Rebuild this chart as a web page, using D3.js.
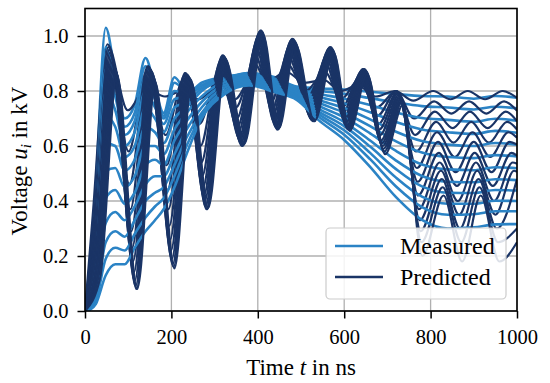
<!DOCTYPE html>
<html><head><meta charset="utf-8">
<script src="https://cdn.jsdelivr.net/npm/d3@7"></script>
<style>body{margin:0;background:#fff} svg{display:block}</style>
</head><body>
<svg id="chart" width="550" height="383"></svg>
<script>
const xTicks = [0, 200, 400, 600, 800, 1000];
const yTicks = [0, 0.2, 0.4, 0.6, 0.8, 1.0];
const seriesNames = ["Measured", "Predicted"];

const measTimes = [0, 12, 25, 48, 70, 92, 115, 140, 162, 182, 207, 235, 270, 320, 380, 440, 490, 540, 600, 660, 720, 780, 840, 900, 950, 1000];
const measured = [
  [0, 0.12, 0.45, 1.03, 0.86, 0.70, 0.75, 0.92, 0.81, 0.72, 0.85, 0.80, 0.81, 0.84, 0.865, 0.85, 0.816, 0.810, 0.805, 0.797, 0.789, 0.782, 0.780, 0.772, 0.782, 0.776],
  [0, 0.10, 0.39, 0.96, 0.83, 0.67, 0.72, 0.89, 0.79, 0.71, 0.83, 0.80, 0.82, 0.845, 0.865, 0.845, 0.812, 0.801, 0.790, 0.774, 0.758, 0.745, 0.740, 0.733, 0.743, 0.737],
  [0, 0.08, 0.33, 0.88, 0.78, 0.64, 0.69, 0.85, 0.77, 0.70, 0.80, 0.79, 0.83, 0.85, 0.86, 0.84, 0.808, 0.790, 0.772, 0.749, 0.722, 0.702, 0.695, 0.688, 0.699, 0.692],
  [0, 0.065, 0.27, 0.80, 0.73, 0.60, 0.65, 0.80, 0.74, 0.68, 0.77, 0.78, 0.82, 0.85, 0.86, 0.835, 0.803, 0.779, 0.755, 0.723, 0.687, 0.660, 0.650, 0.644, 0.655, 0.648],
  [0, 0.05, 0.22, 0.71, 0.67, 0.56, 0.60, 0.74, 0.70, 0.65, 0.74, 0.76, 0.81, 0.845, 0.855, 0.83, 0.799, 0.768, 0.738, 0.697, 0.652, 0.618, 0.605, 0.600, 0.611, 0.605],
  [0, 0.04, 0.18, 0.61, 0.60, 0.51, 0.55, 0.67, 0.65, 0.61, 0.70, 0.74, 0.80, 0.84, 0.85, 0.825, 0.794, 0.758, 0.721, 0.672, 0.617, 0.576, 0.560, 0.556, 0.567, 0.562],
  [0, 0.03, 0.14, 0.51, 0.52, 0.45, 0.49, 0.60, 0.60, 0.57, 0.66, 0.72, 0.78, 0.83, 0.845, 0.82, 0.790, 0.747, 0.704, 0.646, 0.582, 0.533, 0.515, 0.512, 0.523, 0.519],
  [0, 0.02, 0.10, 0.41, 0.44, 0.39, 0.43, 0.53, 0.55, 0.53, 0.62, 0.69, 0.76, 0.82, 0.84, 0.815, 0.785, 0.736, 0.687, 0.620, 0.547, 0.491, 0.470, 0.468, 0.479, 0.476],
  [0, 0.015, 0.07, 0.32, 0.36, 0.33, 0.38, 0.46, 0.49, 0.49, 0.57, 0.66, 0.74, 0.81, 0.835, 0.81, 0.781, 0.726, 0.672, 0.598, 0.516, 0.453, 0.430, 0.429, 0.440, 0.438],
  [0, 0.01, 0.05, 0.25, 0.29, 0.27, 0.33, 0.40, 0.43, 0.45, 0.53, 0.63, 0.72, 0.80, 0.83, 0.805, 0.777, 0.717, 0.657, 0.575, 0.485, 0.416, 0.390, 0.390, 0.401, 0.400],
  [0, 0.008, 0.035, 0.19, 0.23, 0.22, 0.28, 0.34, 0.38, 0.41, 0.49, 0.60, 0.71, 0.79, 0.825, 0.80, 0.773, 0.707, 0.641, 0.552, 0.453, 0.378, 0.350, 0.352, 0.363, 0.363],
  [0, 0.005, 0.025, 0.13, 0.17, 0.17, 0.23, 0.29, 0.33, 0.37, 0.45, 0.57, 0.70, 0.785, 0.82, 0.795, 0.768, 0.695, 0.622, 0.524, 0.414, 0.331, 0.300, 0.304, 0.315, 0.316]
];

const predTimes = [
  [0, 18, 52, 99, 141, 185, 225, 263, 304, 347, 390, 427, 465, 509, 553, 591, 631, 673, 718, 760, 806, 846, 886, 926, 967, 1000],
  [0, 20, 54, 101, 143, 187, 227, 265, 306, 349, 392, 429, 467, 511, 555, 593, 633, 675, 720, 762, 808, 848, 889, 929, 970, 1000],
  [0, 21, 56, 103, 145, 189, 229, 267, 308, 351, 394, 431, 469, 513, 557, 595, 635, 677, 721, 764, 810, 851, 891, 932, 974, 1000],
  [0, 23, 58, 105, 147, 191, 231, 269, 310, 353, 396, 433, 471, 515, 559, 597, 637, 679, 723, 766, 813, 853, 894, 935, 977, 1000],
  [0, 24, 60, 107, 149, 193, 233, 271, 312, 355, 398, 435, 473, 517, 561, 599, 639, 681, 724, 768, 815, 856, 897, 938, 980, 1000],
  [0, 26, 62, 109, 151, 195, 235, 273, 314, 357, 400, 437, 475, 519, 563, 601, 641, 683, 726, 770, 817, 858, 900, 941, 983, 1000],
  [0, 27, 64, 111, 153, 197, 237, 275, 316, 359, 402, 439, 477, 521, 565, 603, 643, 685, 728, 771, 819, 861, 902, 944, 987, 1000],
  [0, 29, 66, 113, 155, 199, 239, 277, 318, 361, 404, 441, 479, 523, 567, 605, 645, 687, 729, 773, 821, 863, 905, 947, 990, 1000],
  [0, 30, 68, 115, 157, 201, 241, 279, 320, 363, 406, 443, 481, 525, 569, 607, 647, 689, 731, 775, 824, 866, 908, 950, 993, 1000],
  [0, 32, 70, 117, 159, 203, 243, 281, 322, 365, 408, 445, 483, 527, 571, 609, 649, 691, 733, 777, 826, 868, 911, 953, 1000],
  [0, 33, 72, 119, 161, 205, 245, 283, 324, 367, 410, 447, 485, 529, 573, 611, 651, 693, 734, 779, 828, 871, 913, 956, 1000],
  [0, 35, 74, 121, 163, 207, 247, 285, 326, 369, 412, 449, 487, 531, 575, 613, 653, 695, 736, 781, 830, 873, 916, 959, 1000]
];
const predicted = [
  [0, 0.35, 0.97, 0.73, 0.81, 0.78, 0.80, 0.77, 0.81, 0.77, 0.86, 0.84, 0.87, 0.83, 0.84, 0.80, 0.82, 0.78, 0.80, 0.765, 0.80, 0.77, 0.80, 0.77, 0.80, 0.775],
  [0, 0.32, 0.96, 0.58, 0.87, 0.64, 0.84, 0.68, 0.85, 0.74, 0.90, 0.80, 0.90, 0.80, 0.87, 0.77, 0.84, 0.74, 0.80, 0.70, 0.762, 0.718, 0.762, 0.718, 0.762, 0.728],
  [0, 0.30, 0.95, 0.46, 0.89, 0.53, 0.855, 0.60, 0.87, 0.70, 0.93, 0.76, 0.93, 0.77, 0.90, 0.74, 0.85, 0.71, 0.80, 0.64, 0.725, 0.665, 0.725, 0.665, 0.725, 0.69],
  [0, 0.28, 0.94, 0.37, 0.89, 0.44, 0.865, 0.54, 0.89, 0.67, 0.96, 0.73, 0.95, 0.75, 0.92, 0.72, 0.86, 0.68, 0.795, 0.58, 0.688, 0.612, 0.688, 0.612, 0.688, 0.66],
  [0, 0.26, 0.93, 0.29, 0.885, 0.37, 0.865, 0.49, 0.905, 0.65, 0.98, 0.71, 0.965, 0.73, 0.935, 0.70, 0.87, 0.66, 0.79, 0.52, 0.65, 0.56, 0.65, 0.56, 0.65, 0.63],
  [0, 0.24, 0.92, 0.23, 0.88, 0.31, 0.86, 0.45, 0.915, 0.63, 0.995, 0.69, 0.975, 0.72, 0.945, 0.69, 0.875, 0.64, 0.785, 0.47, 0.615, 0.505, 0.615, 0.505, 0.615, 0.605],
  [0, 0.22, 0.91, 0.18, 0.875, 0.26, 0.86, 0.42, 0.925, 0.62, 1.005, 0.68, 0.985, 0.71, 0.955, 0.68, 0.88, 0.62, 0.78, 0.42, 0.575, 0.455, 0.575, 0.455, 0.575, 0.565],
  [0, 0.20, 0.90, 0.14, 0.87, 0.22, 0.855, 0.40, 0.93, 0.61, 1.015, 0.67, 0.99, 0.70, 0.96, 0.67, 0.88, 0.61, 0.775, 0.37, 0.54, 0.40, 0.54, 0.40, 0.54, 0.536],
  [0, 0.18, 0.89, 0.11, 0.86, 0.19, 0.85, 0.38, 0.93, 0.60, 1.02, 0.665, 0.99, 0.695, 0.96, 0.665, 0.88, 0.60, 0.77, 0.33, 0.51, 0.35, 0.51, 0.35, 0.51, 0.506],
  [0, 0.16, 0.88, 0.09, 0.85, 0.17, 0.845, 0.37, 0.925, 0.60, 1.02, 0.66, 0.985, 0.69, 0.955, 0.66, 0.875, 0.59, 0.765, 0.29, 0.48, 0.30, 0.48, 0.30, 0.48],
  [0, 0.14, 0.87, 0.08, 0.84, 0.16, 0.84, 0.37, 0.92, 0.605, 1.015, 0.66, 0.98, 0.69, 0.95, 0.66, 0.87, 0.58, 0.76, 0.25, 0.45, 0.25, 0.45, 0.25, 0.30],
  [0, 0.12, 0.86, 0.08, 0.83, 0.155, 0.83, 0.375, 0.91, 0.61, 1.005, 0.665, 0.97, 0.69, 0.94, 0.655, 0.86, 0.57, 0.75, 0.20, 0.42, 0.18, 0.42, 0.18, 0.25]
];

const colMeas = "#2b83c5";
const colPred = "#1a3466";
const font = "'Liberation Serif', 'DejaVu Serif', serif";

const svg = d3.select("#chart");
const x = d3.scaleLinear().domain([0, 1000]).range([85, 517]);
const y = d3.scaleLinear().domain([0, 1.1]).range([311, 8.5]);

svg.append("defs").append("clipPath").attr("id", "clip")
  .append("rect").attr("x", 85).attr("y", 8.5).attr("width", 432).attr("height", 302.5);

// grid
const grid = svg.append("g");
grid.selectAll(".gx").data(xTicks).join("line")
  .attr("x1", d => x(d)).attr("x2", d => x(d)).attr("y1", y(0)).attr("y2", y(1.1))
  .attr("stroke", "#b0b0b0").attr("stroke-width", 1.3);
grid.selectAll(".gy").data(yTicks).join("line")
  .attr("y1", d => y(d)).attr("y2", d => y(d)).attr("x1", x(0)).attr("x2", x(1000))
  .attr("stroke", "#b0b0b0").attr("stroke-width", 1.3);

const line = d3.line().x(d => x(d[0])).y(d => y(d[1])).curve(d3.curveMonotoneX);
const plot = svg.append("g").attr("clip-path", "url(#clip)");
for (let k = 0; k < measured.length; k++) {
  plot.append("path").datum(measTimes.map((t, i) => [t, measured[k][i]]))
    .attr("d", line).attr("fill", "none").attr("stroke", colMeas)
    .attr("stroke-width", 2.6).attr("stroke-linejoin", "round");
  plot.append("path").datum(predTimes[k].map((t, i) => [t, predicted[k][i]]))
    .attr("d", line).attr("fill", "none").attr("stroke", colPred)
    .attr("stroke-width", 2.2).attr("stroke-linejoin", "round");
}

// axes
const xAxis = svg.append("g").attr("transform", `translate(0,${y(0)})`)
  .call(d3.axisBottom(x).tickValues(xTicks).tickSize(7.5).tickPadding(11).tickFormat(d3.format("d")));
const yAxis = svg.append("g").attr("transform", `translate(${x(0)},0)`)
  .call(d3.axisLeft(y).tickValues(yTicks).tickSize(7.5).tickPadding(9).tickFormat(d3.format(".1f")));
[xAxis, yAxis].forEach(a => {
  a.select(".domain").remove();
  a.selectAll(".tick line").attr("stroke", "#000").attr("stroke-width", 1.5);
  a.selectAll(".tick text").attr("fill", "#000").style("font-family", font).style("font-size", "20.5px");
});

// frame
svg.append("rect").attr("x", x(0)).attr("y", y(1.1)).attr("width", x(1000) - x(0)).attr("height", y(0) - y(1.1))
  .attr("fill", "none").attr("stroke", "#000").attr("stroke-width", 1.6);

// axis labels
const xl = svg.append("text").attr("x", 301).attr("y", 375).attr("text-anchor", "middle")
  .style("font-family", font).style("font-size", "23px").attr("fill", "#000");
xl.append("tspan").text("Time ");
xl.append("tspan").attr("font-style", "italic").text("t");
xl.append("tspan").text(" in ns");

const yl = svg.append("text").attr("transform", "translate(27,161) rotate(-90)").attr("text-anchor", "middle")
  .style("font-family", font).style("font-size", "23px").attr("fill", "#000");
yl.append("tspan").text("Voltage ");
yl.append("tspan").attr("font-style", "italic").text("u");
yl.append("tspan").attr("font-style", "italic").attr("font-size", "15px").attr("dy", 4).text("i");
yl.append("tspan").attr("dy", -4).text(" in kV");

// legend
const lg = svg.append("g");
lg.append("rect").attr("x", 326).attr("y", 228).attr("width", 180).attr("height", 71).attr("rx", 4)
  .attr("fill", "#fff").attr("fill-opacity", 0.85).attr("stroke", "#cccccc").attr("stroke-width", 1.2);
const legendColors = [colMeas, colPred];
seriesNames.forEach((name, i) => {
  const yy = 246 + i * 31;
  lg.append("line").attr("x1", 335).attr("x2", 383).attr("y1", yy).attr("y2", yy)
    .attr("stroke", legendColors[i]).attr("stroke-width", 2.4);
  lg.append("text").attr("x", 400).attr("y", yy + 8).text(name)
    .style("font-family", font).style("font-size", "24px").attr("fill", "#000");
});
</script>
</body></html>
